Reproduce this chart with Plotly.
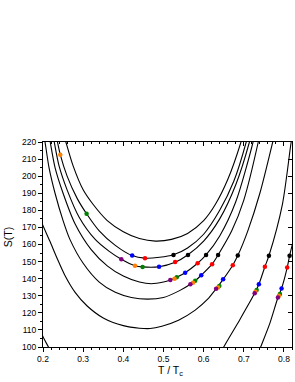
import plotly.graph_objects as go

# ---- curve data (T/Tc, S) ----
c1_T = [0.250, 0.257, 0.275, 0.300, 0.325, 0.360, 0.400, 0.440, 0.480, 0.520, 0.560, 0.600, 0.629, 0.660, 0.693, 0.700]
c1_S = [226, 220, 206, 192, 183.4, 174, 167.5, 163.5, 162, 163, 166.5, 174, 183.4, 198, 220, 226]

c2_T = [0.230, 0.236, 0.243, 0.260, 0.285, 0.3085, 0.340, 0.380, 0.422, 0.454, 0.490, 0.525, 0.560, 0.600, 0.640, 0.675, 0.706, 0.712]
c2_S = [227, 220, 212.6, 200, 187, 178, 168, 159.5, 153.5, 152, 152.5, 154, 158, 166, 180, 197, 220, 226]

c3_T = [0.223, 0.228, 0.240, 0.260, 0.290, 0.330, 0.365, 0.395, 0.429, 0.448, 0.489, 0.529, 0.561, 0.600, 0.640, 0.680, 0.714, 0.720]
c3_S = [227, 220, 206, 192, 176, 163, 156, 151.4, 147.6, 146.9, 147, 149.6, 154, 162, 175, 195, 220, 226]

c4_T = [0.213, 0.218, 0.230, 0.250, 0.280, 0.320, 0.360, 0.400, 0.440, 0.470, 0.500, 0.517, 0.533, 0.554, 0.585, 0.606, 0.640, 0.680, 0.723, 0.728]
c4_S = [227, 220, 205, 190, 172, 157, 147.5, 141.5, 138, 137, 138, 139.2, 140.8, 143.5, 149, 153.9, 165, 185, 220, 226]

c5_T = [0.200, 0.205, 0.215, 0.230, 0.250, 0.267, 0.300, 0.340, 0.380, 0.420, 0.460, 0.500, 0.540, 0.567, 0.579, 0.594, 0.621, 0.636, 0.670, 0.700, 0.736, 0.741]
c5_S = [226, 220, 205, 190, 174, 163, 149, 138, 132, 129, 128, 129, 133, 136.7, 138.8, 142, 148.5, 153.9, 168, 186, 220, 226]

c6_T = [0.195, 0.200, 0.217, 0.235, 0.254, 0.280, 0.310, 0.350, 0.400, 0.440, 0.467, 0.496, 0.5375, 0.579, 0.610, 0.631, 0.6485, 0.6725, 0.685, 0.710, 0.740, 0.772, 0.778]
c6_S = [174, 171, 162, 152, 142.2, 132, 124, 117, 112.5, 111, 110.8, 112.2, 115.7, 121.6, 128, 134.1, 139.6, 147.9, 153.5, 168, 190, 220, 226]

cA_left_T = [0.195, 0.200, 0.2135, 0.216]
cA_left_S = [109, 106, 100, 98.8]
cA_T = [0.645, 0.650, 0.690, 0.727, 0.7375, 0.7525, 0.7625, 0.796, 0.818, 0.823]
cA_S = [97.5, 100, 116, 131.4, 136.7, 147, 153.4, 183.4, 220, 226]

cB_T = [0.738, 0.742, 0.765, 0.785, 0.794, 0.808, 0.814, 0.825]
cB_S = [97.5, 100, 114, 129, 134.3, 146.5, 153.4, 164]

curves = [(c1_T, c1_S), (c2_T, c2_S), (c3_T, c3_S), (c4_T, c4_S), (c5_T, c5_S),
          (c6_T, c6_S), (cA_left_T, cA_left_S), (cA_T, cA_S), (cB_T, cB_S)]

# ---- coloured points ----
black_T = [0.525, 0.561, 0.606, 0.636, 0.685, 0.7625, 0.814]
black_S = [153.9, 153.9, 153.9, 153.9, 153.5, 153.4, 153.4]
red_T = [0.454, 0.529, 0.585, 0.621, 0.6725, 0.7525, 0.808]
red_S = [152.0, 149.8, 149.0, 148.5, 147.9, 147.0, 146.5]
blue_T = [0.422, 0.489, 0.554, 0.594, 0.6485, 0.7375, 0.794]
blue_S = [153.5, 147.0, 143.5, 142.0, 139.6, 136.7, 134.3]
green_T = [0.3085, 0.448, 0.533, 0.579, 0.639, 0.732, 0.790]
green_S = [178.0, 146.9, 140.8, 138.8, 135.7, 133.4, 131.0]
orange_T = [0.243, 0.429, 0.5275, 0.5735, 0.636, 0.729, 0.7875]
orange_S = [212.6, 147.6, 140.0, 137.6, 134.9, 132.4, 130.0]
purple_T = [0.395, 0.517, 0.567, 0.631, 0.727, 0.785]
purple_S = [151.4, 139.2, 136.7, 134.1, 131.4, 129.0]

point_sets = [(black_T, black_S, "#000000"), (red_T, red_S, "#ff0000"),
              (blue_T, blue_S, "#0000ff"), (green_T, green_S, "#008000"),
              (orange_T, orange_S, "#ff8000"), (purple_T, purple_S, "#800080")]

x_range = [0.2, 0.82]
y_range = [100, 220]
x_title = "T / T<sub>c</sub>"
y_title = "S(T)"

fig = go.Figure()
for T, S in curves:
    fig.add_trace(go.Scatter(x=T, y=S, mode="lines",
                             line=dict(color="black", width=1.1, shape="spline", smoothing=0.8),
                             hoverinfo="skip", showlegend=False))
for T, S, col in point_sets:
    fig.add_trace(go.Scatter(x=T, y=S, mode="markers",
                             marker=dict(color=col, size=4.5, line=dict(width=0)),
                             showlegend=False, cliponaxis=False))
# helper trace for mirrored axes
fig.add_trace(go.Scatter(x=[None], y=[None], xaxis="x2", yaxis="y2", showlegend=False))

font = dict(family="Liberation Sans, Arial, sans-serif", color="black")
fig.update_layout(
    width=295, height=382,
    margin=dict(l=43, r=3, t=142, b=35),
    plot_bgcolor="white", paper_bgcolor="white",
    font=dict(size=8.5, **font),
    xaxis=dict(range=x_range, tick0=0.2, dtick=0.1, tickformat=".1f", automargin=False,
               ticks="outside", ticklen=4, tickwidth=1, tickcolor="black",
               minor=dict(dtick=0.02, tick0=0.2, ticks="outside", ticklen=2, tickcolor="black"),
               showline=True, linecolor="black", linewidth=1, showgrid=False, zeroline=False,
               tickfont=dict(size=8.5)),
    yaxis=dict(range=y_range, dtick=10, ticks="outside", ticklen=4, tickwidth=1, tickcolor="black",
               automargin=False,
               minor=dict(dtick=5, ticks="outside", ticklen=2, tickcolor="black"),
               showline=True, linecolor="black", linewidth=1, showgrid=False, zeroline=False,
               tickfont=dict(size=8.5)),
    xaxis2=dict(range=x_range, overlaying="x", side="top", anchor="y", tick0=0.2, dtick=0.1,
                automargin=False,
                ticks="inside", ticklen=4, tickcolor="black", showticklabels=False,
                minor=dict(dtick=0.02, tick0=0.2, ticks="inside", ticklen=2, tickcolor="black"),
                showline=True, linecolor="black", linewidth=1, showgrid=False, zeroline=False),
    yaxis2=dict(range=y_range, overlaying="y", side="right", anchor="x", dtick=10,
                automargin=False,
                ticks="inside", ticklen=4, tickcolor="black", showticklabels=False,
                showline=True, linecolor="black", linewidth=1, showgrid=False, zeroline=False),
    annotations=[
        dict(text=x_title, xref="paper", yref="paper", x=0.514, y=-0.118,
             xanchor="center", yanchor="middle", showarrow=False, font=dict(size=10.5)),
        dict(text=y_title, xref="paper", yref="paper", x=-0.141, y=0.535, textangle=-90,
             xanchor="center", yanchor="middle", showarrow=False, font=dict(size=10.5)),
    ],
)
fig.write_html("out.html", config={"displayModeBar": False},
               post_script="document.body.style.margin='0px';document.body.style.overflow='hidden';")
